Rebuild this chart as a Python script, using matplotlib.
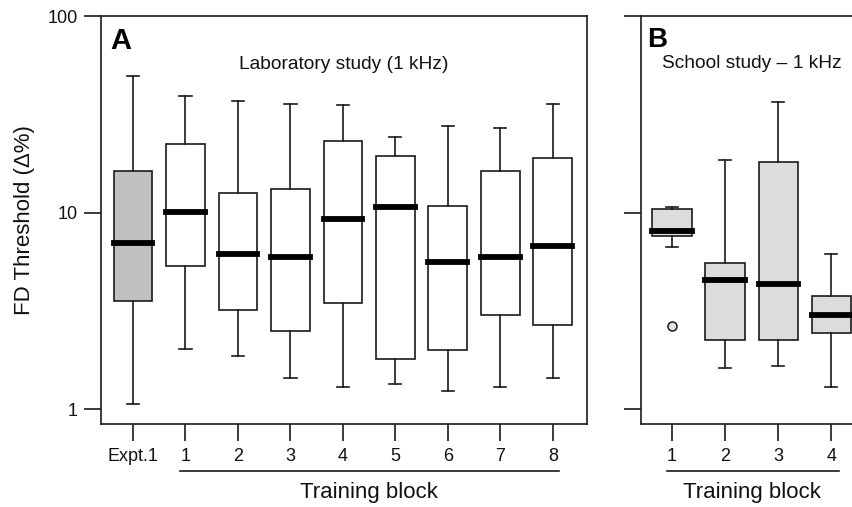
import matplotlib
matplotlib.use("Agg")
import matplotlib.pyplot as plt
import matplotlib.transforms as mtransforms
from matplotlib.ticker import FixedLocator, NullLocator, FixedFormatter

plt.rcParams['font.family'] = ['Liberation Sans', 'DejaVu Sans']

# ---- Data: panel A (laboratory study) ----
lab_labels = ["Expt.1", "1", "2", "3", "4", "5", "6", "7", "8"]
lab_whislo = [1.06, 2.03, 1.86, 1.44, 1.29, 1.34, 1.23, 1.29, 1.44]
lab_q1     = [3.56, 5.34, 3.19, 2.51, 3.48, 1.79, 2.00, 3.01, 2.68]
lab_med    = [7.00, 10.1, 6.15, 5.94, 9.27, 10.7, 5.58, 5.94, 6.76]
lab_q3     = [16.2, 22.4, 12.5, 13.1, 23.2, 19.4, 10.8, 16.3, 18.9]
lab_whishi = [49.7, 39.2, 36.8, 35.8, 35.4, 24.1, 27.5, 26.9, 35.8]

# ---- Data: panel B (school study) ----
school_labels = ["1", "2", "3", "4"]
school_whislo = [6.70, 1.61, 1.65, 1.30]
school_q1     = [7.62, 2.25, 2.25, 2.44]
school_med    = [8.05, 4.53, 4.33, 3.00]
school_q3     = [10.4, 5.55, 18.1, 3.76]
school_whishi = [10.7, 18.4, 36.5, 6.15]
school_fliers = [[2.65], [], [], []]

yticks = [1, 10, 100]
ytick_labels = ["1", "10", "100"]

W, H = 852, 507
fig = plt.figure(figsize=(W / 100, H / 100), dpi=100)

def px_axes(l, r, t, b):
    return fig.add_axes([l / W, 1 - b / H, (r - l) / W, (b - t) / H])

axA = px_axes(101, 587, 16, 424)
axB = px_axes(641, 880, 16, 424)

ec = '#1a1a1a'
lw = 1.2
tick_fs = 13

def make_stats(lo, q1, med, q3, hi, fl=None):
    out = []
    for i in range(len(med)):
        out.append(dict(whislo=lo[i], q1=q1[i], med=med[i], q3=q3[i],
                        whishi=hi[i], fliers=(fl[i] if fl else [])))
    return out

def draw(ax, stats, positions, colors, widths):
    res = ax.bxp(stats, positions=positions, widths=widths, capwidths=0.23,
                 patch_artist=True, showfliers=True, manage_ticks=False,
                 boxprops=dict(edgecolor=ec, linewidth=lw),
                 whiskerprops=dict(color=ec, linewidth=lw),
                 capprops=dict(color=ec, linewidth=lw),
                 medianprops=dict(color='black', linewidth=4.2, solid_capstyle='projecting'),
                 flierprops=dict(marker='o', markersize=6.5, markerfacecolor='#e4e4e4',
                                 markeredgecolor=ec, markeredgewidth=1.1))
    for p, c in zip(res['boxes'], colors):
        p.set_facecolor(c)
    return res

posA = list(range(len(lab_labels)))
colorsA = ['#c0c0c0'] + ['white'] * (len(lab_labels) - 1)
draw(axA, make_stats(lab_whislo, lab_q1, lab_med, lab_q3, lab_whishi), posA, colorsA, 0.74)

posB = list(range(1, len(school_labels) + 1))
draw(axB, make_stats(school_whislo, school_q1, school_med, school_q3, school_whishi, school_fliers),
     posB, ['#dcdcdc'] * len(school_labels), 0.74)

for ax in (axA, axB):
    ax.set_yscale('log')
    ax.set_ylim(10 ** (-0.076), 100)
    ax.yaxis.set_major_locator(FixedLocator(yticks))
    ax.yaxis.set_minor_locator(NullLocator())
    ax.tick_params(axis='both', which='major', direction='out', length=12, width=lw,
                   color=ec, labelsize=tick_fs, pad=5, labelcolor='#111111')
    for s in ax.spines.values():
        s.set_linewidth(lw)
        s.set_color(ec)

axA.set_xlim(-0.61, 8.65)
axA.set_xticks(posA)
axA.set_xticklabels(lab_labels)
axA.yaxis.set_major_formatter(FixedFormatter(ytick_labels))
axA.set_ylabel("FD Threshold (Δ%)", fontsize=16, labelpad=9, color='#111111')

axB.set_xlim(0.415, 4.92)
axB.set_xticks(posB)
axB.set_xticklabels(school_labels)
axB.set_yticklabels([])

# panel letters and titles
axA.text(0.0185, 0.919, "A", transform=axA.transAxes, fontsize=21, fontweight='bold',
         ha='left', va='baseline')
axB.text(0.025, 0.924, "B", transform=axB.transAxes, fontsize=20, fontweight='bold',
         ha='left', va='baseline')
axA.text(0.5, 0.882, "Laboratory study (1 kHz)", transform=axA.transAxes, fontsize=13.8,
         ha='center', va='center', color='#111111')
trB = mtransforms.blended_transform_factory(axB.transData, axB.transAxes)
axB.text(2.5, 0.884, "School study – 1 kHz", transform=trB, fontsize=13.8,
         ha='center', va='center', color='#111111')

# training-block underlines and labels
trA = mtransforms.blended_transform_factory(axA.transData, axA.transAxes)
axA.plot([0.895, 8.11], [-0.115, -0.115], transform=trA, color=ec, lw=lw, clip_on=False)
axA.text(4.5, -0.169, "Training block", transform=trA, fontsize=16, ha='center', va='center',
         color='#111111')
axB.plot([0.906, 4.15], [-0.115, -0.115], transform=trB, color=ec, lw=lw, clip_on=False)
axB.text(2.5, -0.169, "Training block", transform=trB, fontsize=16, ha='center', va='center',
         color='#111111')

fig.savefig("out.png", dpi=100)
